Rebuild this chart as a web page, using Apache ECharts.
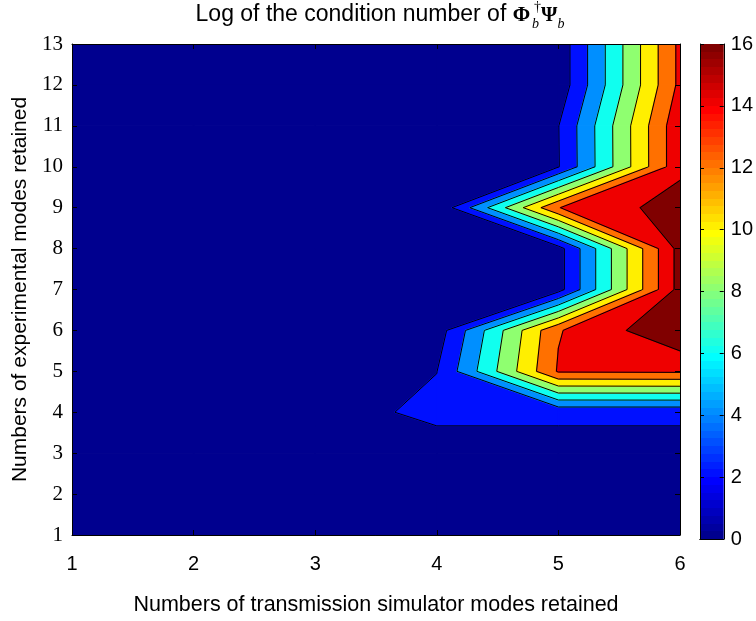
<!DOCTYPE html>
<html>
<head>
<meta charset="utf-8">
<script src="https://cdn.jsdelivr.net/npm/echarts@6/dist/echarts.min.js"></script>
<style>
  html, body { margin: 0; padding: 0; background: #fff; }
  #chart { width: 756px; height: 621px; }
</style>
</head>
<body>
<div id="chart"></div>
<script>
// grid of the plot
var xModes = [1, 2, 3, 4, 5, 6];
var yModes = [1, 2, 3, 4, 5, 6, 7, 8, 9, 10, 11, 12, 13];

// log of the condition number, one row per y (1..13), one column per x (1..6)
var logCond = [
    [0.2, 0.3, 0.4, 0.5, 0.6, 0.7],
    [0.3, 0.4, 0.5, 0.6, 0.7, 0.8],
    [0.4, 0.5, 0.6, 1.0, 1.0, 1.0],
    [0.5, 0.6, 1.05, 2.5, 2.5, 2.5],
    [0.4, 0.5, 0.8, 1.97, 14.2, 14.3],
    [0.3, 0.4, 0.6, 0.96, 13.85, 17.7],
    [0.3, 0.3, 0.4, 0.5, 1.24, 16.75],
    [0.2, 0.3, 0.4, 0.5, 1.24, 16.75],
    [0.2, 0.3, 0.3, 0.3, 13.95, 17.0],
    [0.2, 0.2, 0.3, 0.4, 1.9, 15.5],
    [0.2, 0.2, 0.3, 0.4, 1.95, 15.5],
    [0.1, 0.2, 0.2, 0.3, 0.69, 14.47],
    [0.1, 0.2, 0.2, 0.3, 0.69, 14.47]
];

var levels = [0, 2, 4, 6, 8, 10, 12, 14, 16];
var colorbarTicks = [0, 2, 4, 6, 8, 10, 12, 14, 16];

// jet colour of each level (MATLAB 64 colour jet)
var bandColors = ['#00008f', '#0010ff', '#008fff', '#10ffef', '#8fff70',
                  '#ffef00', '#ff7000', '#ef0000', '#800000'];

function jet(k) {
    var r, g, b;
    var x = k + 1;
    b = x <= 8 ? 0.5 + x * 0.0625 : (x <= 24 ? 1 : (x <= 40 ? 1 - (x - 24) * 0.0625 : 0));
    g = x <= 8 ? 0 : (x <= 24 ? (x - 8) * 0.0625 : (x <= 40 ? 1 : (x <= 56 ? 1 - (x - 40) * 0.0625 : 0)));
    r = x <= 24 ? 0 : (x <= 40 ? (x - 24) * 0.0625 : (x <= 56 ? 1 : 1 - (x - 56) * 0.0625));
    return 'rgb(' + Math.round(r * 255) + ',' + Math.round(g * 255) + ',' + Math.round(b * 255) + ')';
}
var jetStops = [];
for (var k = 0; k < 64; k++) {
    jetStops.push({offset: k / 64, color: jet(k)});
    jetStops.push({offset: (k + 1) / 64, color: jet(k)});
}

var cells = [];
for (var j = 0; j < yModes.length - 1; j++) {
    for (var i = 0; i < xModes.length - 1; i++) {
        cells.push([xModes[i], yModes[j], i, j]);
    }
}

function cellCorners(i, j) {
    return [
        [xModes[i], yModes[j], logCond[j][i]],
        [xModes[i + 1], yModes[j], logCond[j][i + 1]],
        [xModes[i + 1], yModes[j + 1], logCond[j + 1][i + 1]],
        [xModes[i], yModes[j + 1], logCond[j + 1][i]]
    ];
}

function clip(poly, thr, keepAbove) {
    var out = [];
    for (var k = 0; k < poly.length; k++) {
        var a = poly[k], b = poly[(k + 1) % poly.length];
        var ina = keepAbove ? a[2] >= thr : a[2] < thr;
        var inb = keepAbove ? b[2] >= thr : b[2] < thr;
        if (ina) out.push(a);
        if (ina !== inb) {
            var t = (thr - a[2]) / (b[2] - a[2]);
            out.push([a[0] + t * (b[0] - a[0]), a[1] + t * (b[1] - a[1]), thr]);
        }
    }
    return out;
}

function renderFill(params, api) {
    var corners = cellCorners(api.value(2), api.value(3));
    var children = [];
    for (var k = 0; k < levels.length; k++) {
        var poly = corners;
        if (k > 0) poly = clip(poly, levels[k], true);
        if (k < levels.length - 1) poly = clip(poly, levels[k + 1], false);
        if (poly.length < 3) continue;
        children.push({
            type: 'polygon',
            shape: {points: poly.map(function (p) { return api.coord([p[0], p[1]]); })},
            style: {fill: bandColors[k], stroke: bandColors[k], lineWidth: 1.4, lineJoin: 'round'}
        });
    }
    return {type: 'group', children: children};
}

function renderLines(params, api) {
    var corners = cellCorners(api.value(2), api.value(3));
    var children = [];
    for (var k = 1; k < levels.length; k++) {
        var L = levels[k], pts = [];
        for (var e = 0; e < 4; e++) {
            var a = corners[e], b = corners[(e + 1) % 4];
            if ((a[2] >= L) !== (b[2] >= L)) {
                var t = (L - a[2]) / (b[2] - a[2]);
                pts.push(api.coord([a[0] + t * (b[0] - a[0]), a[1] + t * (b[1] - a[1])]));
            }
        }
        for (var s = 0; s + 1 < pts.length; s += 2) {
            children.push({
                type: 'line',
                shape: {x1: pts[s][0], y1: pts[s][1], x2: pts[s + 1][0], y2: pts[s + 1][1]},
                style: {stroke: '#000', lineWidth: 1}
            });
        }
    }
    return {type: 'group', children: children};
}

// title with the math part
var ctx = document.createElement('canvas').getContext('2d');
function tw(str, font) { ctx.font = font; return ctx.measureText(str).width; }
var fMain = '23px "Liberation Sans"';
var fBig = 'bold 21px "Liberation Serif"';
var fSmall = '14px "Liberation Serif"';
var fSmallIt = 'italic 14px "Liberation Serif"';
var mainText = 'Log of the condition number of ';
var wMain = tw(mainText, fMain), wPhi = tw('\u03A6', fBig), wPsi = tw('\u03A8', fBig);
var wDag = Math.max(tw('\u2020', fSmall), tw('b', fSmallIt));
var wB = tw('b', fSmallIt);
var total = wMain + wPhi + 2 + wDag + 2 + wPsi + wB;
var x0 = 380 - total / 2;
var xPhi = x0 + wMain, xScript = xPhi + wPhi + 2, xPsi = xScript + wDag + 2, xB2 = xPsi + wPsi;

function txt(x, y, text, font) {
    return {type: 'text', x: x, y: y, silent: true,
        style: {text: text, font: font, fill: '#000', align: 'left', verticalAlign: 'middle'}};
}

var sans = 'Liberation Sans';

var option = {
    animation: false,
    textStyle: {fontFamily: sans},
    graphic: [
        txt(x0, 15, mainText, fMain),
        txt(xPhi, 16, '\u03A6', fBig),
        txt(xScript + 2, 7, '\u2020', fSmall),
        txt(xScript, 24, 'b', fSmallIt),
        txt(xPsi, 16, '\u03A8', fBig),
        txt(xB2, 24, 'b', fSmallIt)
    ],
    grid: [
        {left: 72, top: 44, width: 608, height: 495},
        {left: 700, top: 44, width: 27, height: 495}
    ],
    xAxis: [
        {
            gridIndex: 0, type: 'value', min: 1, max: 6, interval: 1, position: 'bottom', z: 10,
            axisLine: {onZero: false, lineStyle: {color: '#000', width: 1}},
            axisTick: {inside: true, length: 5, lineStyle: {color: '#000'}},
            axisLabel: {color: '#000', fontSize: 20, margin: 19, fontFamily: sans},
            splitLine: {show: false},
            name: 'Numbers of transmission simulator modes retained',
            nameLocation: 'middle', nameGap: 59,
            nameTextStyle: {color: '#000', fontSize: 21.5, fontFamily: sans}
        },
        {
            gridIndex: 0, type: 'value', min: 1, max: 6, interval: 1, position: 'top', z: 10,
            axisLine: {onZero: false, lineStyle: {color: '#000', width: 1}},
            axisTick: {inside: true, length: 5, lineStyle: {color: '#000'}},
            axisLabel: {show: false}, splitLine: {show: false}
        },
        {
            gridIndex: 1, type: 'category', data: [''], position: 'bottom', z: 10,
            axisLine: {lineStyle: {color: '#000', width: 1}},
            axisTick: {show: false}, axisLabel: {show: false}
        },
        {
            gridIndex: 1, type: 'category', data: [''], position: 'top', z: 10,
            axisLine: {lineStyle: {color: '#000', width: 1}},
            axisTick: {show: false}, axisLabel: {show: false}
        }
    ],
    yAxis: [
        {
            gridIndex: 0, type: 'value', min: 1, max: 13, interval: 1, position: 'left', z: 10,
            axisLine: {onZero: false, lineStyle: {color: '#000', width: 1}},
            axisTick: {inside: true, length: 5, lineStyle: {color: '#000'}},
            axisLabel: {color: '#000', fontSize: 21, margin: 9, fontFamily: 'Liberation Serif'},
            splitLine: {show: false},
            name: 'Numbers of experimental modes retained',
            nameLocation: 'middle', nameGap: 38,
            nameTextStyle: {color: '#000', fontSize: 21, fontFamily: sans}
        },
        {
            gridIndex: 0, type: 'value', min: 1, max: 13, interval: 1, position: 'right', z: 10,
            axisLine: {onZero: false, lineStyle: {color: '#000', width: 1}},
            axisTick: {inside: true, length: 5, lineStyle: {color: '#000'}},
            axisLabel: {show: false}, splitLine: {show: false}
        },
        {
            gridIndex: 1, type: 'value', min: colorbarTicks[0], max: colorbarTicks[colorbarTicks.length - 1],
            interval: 2, position: 'right', z: 10,
            axisLine: {show: true, onZero: false, lineStyle: {color: '#000', width: 1}},
            axisTick: {show: true, inside: true, length: 4, lineStyle: {color: '#000'}},
            axisLabel: {color: '#000', fontSize: 20, margin: 7, fontFamily: sans},
            splitLine: {show: false}
        },
        {
            gridIndex: 1, type: 'value', min: 0, max: 16, interval: 2, position: 'left', z: 10,
            axisLine: {show: true, onZero: false, lineStyle: {color: '#000', width: 1}},
            axisTick: {show: true, inside: true, length: 4, lineStyle: {color: '#000'}},
            axisLabel: {show: false}, splitLine: {show: false}
        }
    ],
    series: [
        {
            type: 'custom', xAxisIndex: 0, yAxisIndex: 0, z: 2, silent: true, clip: true,
            data: cells, encode: {x: 0, y: 1}, renderItem: renderFill
        },
        {
            type: 'custom', xAxisIndex: 0, yAxisIndex: 0, z: 3, silent: true,
            data: cells, encode: {x: 0, y: 1}, renderItem: renderLines
        },
        {
            type: 'bar', xAxisIndex: 2, yAxisIndex: 2, barWidth: '100%', silent: true,
            data: [colorbarTicks[colorbarTicks.length - 1]],
            itemStyle: {color: new echarts.graphic.LinearGradient(0, 1, 0, 0, jetStops)}
        }
    ]
};

var chart = echarts.init(document.getElementById('chart'));
chart.setOption(option);
window.onresize = chart.resize;
</script>
</body>
</html>
